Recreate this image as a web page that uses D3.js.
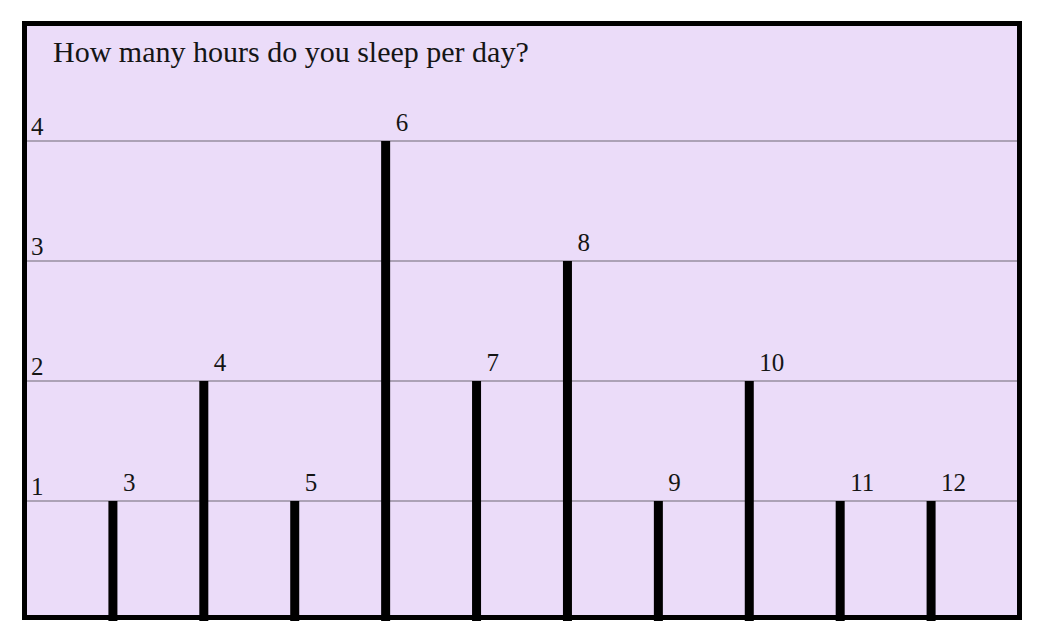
<!DOCTYPE html>
<html>
<head>
<meta charset="utf-8">
<script src="https://cdn.jsdelivr.net/npm/d3@7"></script>
<style>
  body { margin: 0; background: #fff; }
  text { font-family: "Liberation Serif", "Times New Roman", serif; fill: #151515; }
</style>
</head>
<body>
<div id="app"></div>
<script>
// data
const hours = [3, 4, 5, 6, 7, 8, 9, 10, 11, 12];
const counts = [1, 2, 1, 4, 2, 3, 1, 2, 1, 1];
const yTicks = [1, 2, 3, 4];
const title = "How many hours do you sleep per day?";

const W = 1046, H = 642;
const frame = { x: 22, y: 21, w: 1000, h: 599 };

const svg = d3.select("#app").append("svg")
  .attr("width", W)
  .attr("height", H);

// background panel
svg.append("rect")
  .attr("x", frame.x + 2.5)
  .attr("y", frame.y + 2.5)
  .attr("width", frame.w - 5)
  .attr("height", frame.h - 5)
  .style("fill", "#ebdcf9");

const x = d3.scalePoint()
  .domain(hours)
  .range([frame.x, frame.x + frame.w])
  .padding(1);

const y = d3.scaleLinear()
  .domain([0, 4])
  .range([621, 141]);

// gridlines
svg.append("g").selectAll("line")
  .data(yTicks)
  .enter()
  .append("line")
  .attr("x1", frame.x + 4)
  .attr("x2", frame.x + frame.w - 4)
  .attr("y1", (d) => y(d))
  .attr("y2", (d) => y(d))
  .style("stroke", "#aca2b6")
  .style("stroke-width", 2);

// tick labels
svg.append("g").selectAll("text")
  .data(yTicks)
  .enter()
  .append("text")
  .attr("x", 31)
  .attr("y", (d) => y(d) - 6)
  .style("font-size", "25px")
  .text((d) => d);

// bars (stick lines)
const bars = hours.map((h, i) => ({ h, c: counts[i] }));
svg.append("g").selectAll("rect")
  .data(bars)
  .enter()
  .append("rect")
  .attr("x", (d) => x(d.h) - 4.5)
  .attr("y", (d) => y(d.c))
  .attr("width", 9)
  .attr("height", (d) => y(0) - y(d.c))
  .style("fill", "#000");

// bar labels
svg.append("g").selectAll("text")
  .data(bars)
  .enter()
  .append("text")
  .attr("x", (d) => x(d.h) + 10)
  .attr("y", (d) => y(d.c) - 10)
  .style("font-size", "25px")
  .text((d) => d.h);

// title
svg.append("text")
  .attr("x", 53)
  .attr("y", 62)
  .style("font-size", "30px")
  .text(title);

// frame border
svg.append("rect")
  .attr("x", frame.x + 2.5)
  .attr("y", frame.y + 2.5)
  .attr("width", frame.w - 5)
  .attr("height", frame.h - 5)
  .style("fill", "none")
  .style("stroke", "#000")
  .style("stroke-width", 5);
</script>
</body>
</html>
